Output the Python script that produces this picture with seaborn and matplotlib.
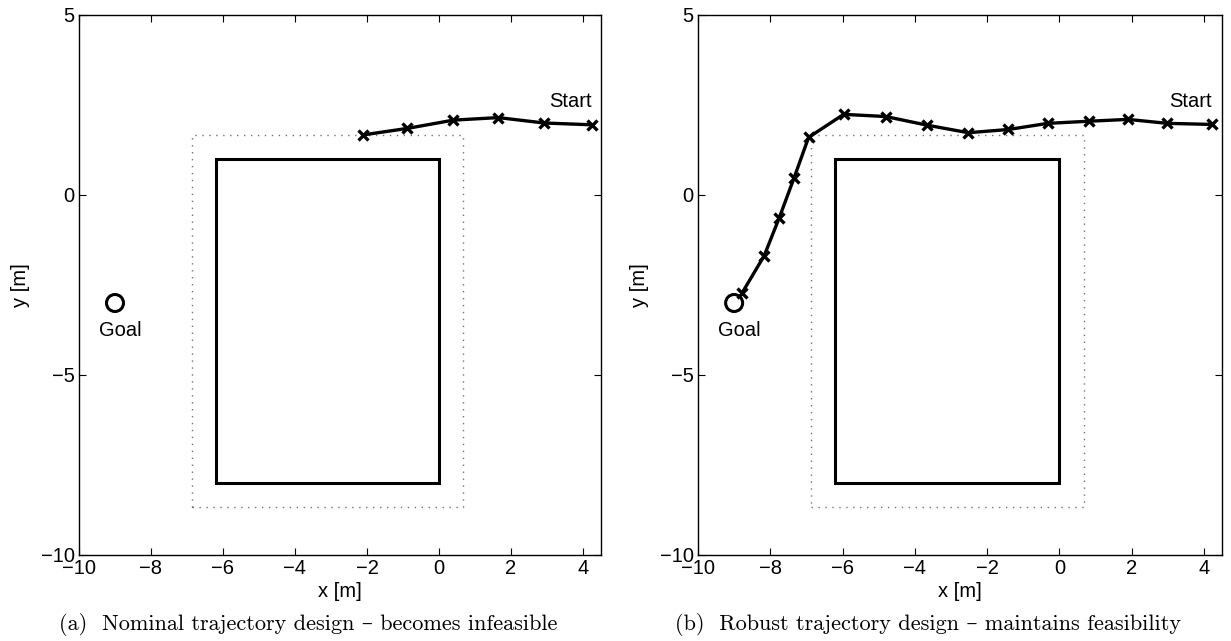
import numpy as np
import pandas as pd
import matplotlib
matplotlib.use("Agg")
import matplotlib.pyplot as plt
import seaborn as sns

# obstacle (solid) and its safety margin (dotted)
obs_x = [-6.2, 0.0, 0.0, -6.2, -6.2]
obs_y = [-8.0, -8.0, 1.0, 1.0, -8.0]
margin_x = [-6.87, 0.67, 0.67, -6.87, -6.87]
margin_y = [-8.67, -8.67, 1.67, 1.67, -8.67]

goal = (-9.0, -3.0)

# (a) nominal trajectory
nom_x = [-2.1, -0.88, 0.4, 1.65, 2.92, 4.25]
nom_y = [1.67, 1.85, 2.08, 2.15, 2.0, 1.95]

# (b) robust trajectory
rob_x = [-8.78, -8.17, -7.75, -7.34, -6.94, -5.97, -4.81, -3.66, -2.52,
         -1.41, -0.32, 0.83, 1.90, 2.99, 4.23]
rob_y = [-2.72, -1.69, -0.63, 0.48, 1.60, 2.24, 2.18, 1.94, 1.73,
         1.82, 1.99, 2.05, 2.10, 1.99, 1.96]

captions = ["(a)  Nominal trajectory design \u2013 becomes infeasible",
            "(b)  Robust trajectory design \u2013 maintains feasibility"]
caption_cx = [308, 928]

sns.set_style("white")
plt.rcParams['font.family'] = ['Liberation Sans', 'DejaVu Sans']
plt.rcParams['font.size'] = 14.5
plt.rcParams['text.color'] = 'black'
plt.rcParams['axes.labelcolor'] = 'black'
plt.rcParams['xtick.color'] = 'black'
plt.rcParams['ytick.color'] = 'black'

W, H = 1231, 641
fig = plt.figure(figsize=(W / 100, H / 100), dpi=100)

panels = [(79, 601, nom_x, nom_y), (698, 1222, rob_x, rob_y)]

for i, (x0, x1, tx, ty) in enumerate(panels):
    ax = fig.add_axes([x0 / W, (H - 555) / H, (x1 - x0) / W, 540 / H])
    ax.plot(margin_x, margin_y, color="0.45", lw=1.0, ls=(0, (1, 4)))
    ax.plot(obs_x, obs_y, color="black", lw=2.2, solid_joinstyle="miter")
    traj = pd.DataFrame({"x": tx, "y": ty})
    sns.lineplot(data=traj, x="x", y="y", sort=False, ax=ax, color="black",
                 lw=2.4, marker="x", markersize=7.5, markeredgewidth=2.4,
                 markeredgecolor="black")
    sns.scatterplot(x=[goal[0]], y=[goal[1]], ax=ax, marker="o", s=150,
                    facecolor="none", edgecolor="black", linewidth=2.2, zorder=5)
    ax.text(goal[0] + 0.15, goal[1] - 0.75, "Goal", ha="center", va="center")
    ax.text(tx[-1] - 0.6, ty[-1] + 0.65, "Start", ha="center", va="center")

    ax.set_xlim(-10, 4.5)
    ax.set_ylim(-10, 5)
    ax.set_xticks(np.arange(-10, 5, 2))
    ax.set_yticks([-10, -5, 0, 5])
    ax.tick_params(direction="in", length=5, width=0.8, top=True, right=True,
                   bottom=True, left=True, pad=3, color="black",
                   labelcolor="black")
    for s in ax.spines.values():
        s.set_visible(True)
        s.set_color("black")
        s.set_linewidth(1.0)
    ax.set_xlabel("x [m]", labelpad=3)
    ax.set_ylabel("y [m]", labelpad=8)
    fig.text(caption_cx[i] / W, 1 - 625 / H, captions[i], ha="center",
             va="center", fontsize=16, family=["cmr10", "DejaVu Serif"])

fig.savefig("out.png", dpi=100)
